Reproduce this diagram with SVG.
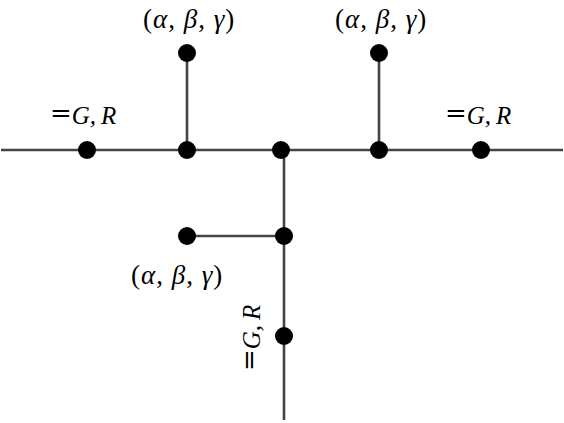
<svg xmlns="http://www.w3.org/2000/svg" width="564" height="423" viewBox="0 0 564 423">
<style>
.ln{stroke:#444;stroke-width:2.6;fill:none}
.dot{fill:#000}
.lab{font-family:"Liberation Serif","DejaVu Serif",serif;font-size:27px;letter-spacing:1px;fill:#000}
.it{font-style:italic}
.eq{font-family:"DejaVu Serif","Liberation Serif",serif;font-size:26px;fill:#000}
.sub{font-family:"Liberation Serif",serif;font-style:italic;font-size:25px;fill:#000}
</style>
<rect width="564" height="423" fill="#fff"/>
<g id="connectors">
<line class="ln" x1="1" y1="150" x2="563" y2="150"/>
<line class="ln" x1="187" y1="53" x2="187" y2="150"/>
<line class="ln" x1="379" y1="53" x2="379" y2="150"/>
<line class="ln" x1="284" y1="150" x2="284" y2="420"/>
<line class="ln" x1="187" y1="236" x2="284" y2="236"/>
</g>
<g id="n1"><circle class="dot" cx="87" cy="150" r="9"/></g>
<g id="n2"><circle class="dot" cx="187" cy="150" r="9"/></g>
<g id="n3"><circle class="dot" cx="187" cy="53" r="9"/></g>
<g id="n4"><circle class="dot" cx="281" cy="150" r="9"/></g>
<g id="n5"><circle class="dot" cx="379" cy="150" r="9"/></g>
<g id="n6"><circle class="dot" cx="379" cy="53" r="9"/></g>
<g id="n7"><circle class="dot" cx="481" cy="150" r="9"/></g>
<g id="n8"><circle class="dot" cx="187" cy="236" r="9"/></g>
<g id="n9"><circle class="dot" cx="284" cy="236" r="9"/></g>
<g id="n10"><circle class="dot" cx="284" cy="336" r="9"/></g>
<g id="labels">
<text class="lab" x="143" y="28">(<tspan class="it">α</tspan>, <tspan class="it">β</tspan>, <tspan class="it">γ</tspan>)</text>
<text class="lab" x="335" y="28">(<tspan class="it">α</tspan>, <tspan class="it">β</tspan>, <tspan class="it">γ</tspan>)</text>
<text class="lab" x="131" y="284">(<tspan class="it">α</tspan>, <tspan class="it">β</tspan>, <tspan class="it">γ</tspan>)</text>
<text x="50" y="122"><tspan class="eq" y="122">=</tspan><tspan class="sub" y="124">G,<tspan dx="5">R</tspan></tspan></text>
<text x="445" y="122"><tspan class="eq" y="122">=</tspan><tspan class="sub" y="124">G,<tspan dx="5">R</tspan></tspan></text>
<text transform="translate(258,371) rotate(-90)" x="0" y="0"><tspan class="eq" y="0">=</tspan><tspan class="sub" y="2">G,<tspan dx="5">R</tspan></tspan></text>
</g>
</svg>
